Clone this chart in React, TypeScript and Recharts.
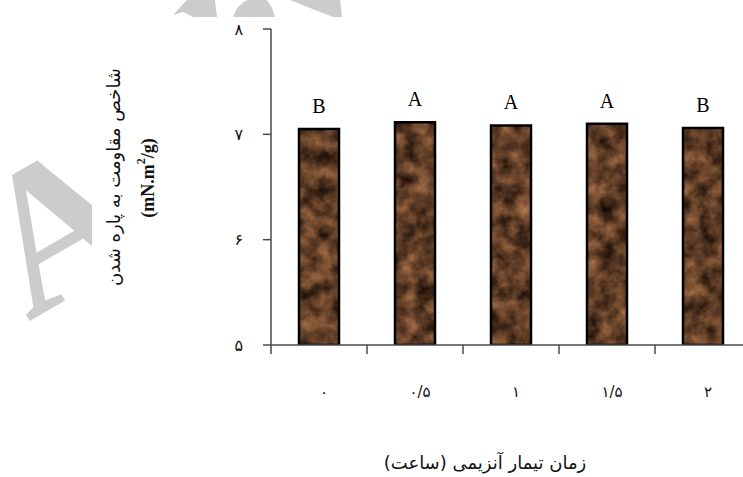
import React from "react";
import { BarChart, Bar, XAxis, YAxis, LabelList } from "recharts";

const categories = ["۰", "۰/۵", "۱", "۱/۵", "۲"];
const values = [7.05, 7.115, 7.085, 7.1, 7.06];
const letters = ["B", "A", "A", "A", "B"];
const yTicks = [5, 6, 7, 8];
const yTickLabels = ["۵", "۶", "۷", "۸"];
const xTitle = "زمان تیمار آنزیمی (ساعت)";
const yTitle = "شاخص مقاومت به پاره شدن";

const data = categories.map((c, i) => ({ cat: c, value: values[i], letter: letters[i] }));

const W = 760;
const H = 477;
const X_H = 30;
const M = { top: 29, right: 9, bottom: 132 - X_H, left: 0 };
const Y_W = 271;
const PLOT_W = W - M.left - M.right - Y_W;
const HALF = PLOT_W / categories.length / 2;
const AXIS_COLOR = "#4a4a4a";
const PERSIAN_FONT = "'DejaVu Sans', sans-serif";

const XTick = (props: any) => {
  const { x, y, payload } = props;
  return (
    <g>
      <line x1={x - HALF} y1={y} x2={x - HALF} y2={y + 9} stroke={AXIS_COLOR} strokeWidth={1.5} />
      <text x={x + 5} y={y + 52} textAnchor="middle" fontSize={15} fontFamily={PERSIAN_FONT} fill="#111">
        {payload.value}
      </text>
    </g>
  );
};

const yFmt = (v: number) => yTickLabels[yTicks.indexOf(v)] ?? String(v);

export default function App() {
  return (
    <div style={{ position: "absolute", left: 0, top: 0, width: 743, height: 477, overflow: "hidden", background: "#fff" }}>
      <svg width={743} height={477} style={{ position: "absolute", left: 0, top: 0 }}>
        <g fill="#cccccc">
          <text x={28} y={322} fontSize={205} fontWeight="bold" fontFamily="'Liberation Serif', serif" transform="rotate(-30 28 322)">A</text>
          <path d="M173,15 L187,0 L215,0 L217,17 L193,17 L183,12 Z" />
          <path d="M233,17 L237,8 L245,1 L249,0 L267,0 L272,8 L275,17 Z" />
          <path d="M290,0 L340,0 L342,17 L333,17 L315,10 Z" />
        </g>
      </svg>
      <div style={{ position: "absolute", left: 92, top: 17, width: 700, height: 470, background: "#fff" }} />
      <div style={{ position: "absolute", left: 0, top: 0 }}>
        <BarChart width={W} height={H} data={data} margin={M} barCategoryGap={0}>
          <defs>
            <filter id="marbleF" x="0" y="0" width="100%" height="100%" colorInterpolationFilters="sRGB">
              <feTurbulence type="fractalNoise" baseFrequency="0.06" numOctaves={4} seed={5} />
              <feColorMatrix
                type="matrix"
                values="0.75 0 0 0 0.0  0.52 0 0 0 -0.02  0.34 0 0 0 -0.02  0 0 0 0 1"
              />
            </filter>
            <pattern id="marble" patternUnits="userSpaceOnUse" x={0} y={0} width={W} height={H}>
              <rect x={0} y={0} width={W} height={H} fill="#5a3a24" filter="url(#marbleF)" />
            </pattern>
          </defs>
          <XAxis
            dataKey="cat"
            height={X_H}
            tickLine={false}
            tickSize={0}
            tickMargin={0}
            tick={<XTick />}
            axisLine={{ stroke: AXIS_COLOR, strokeWidth: 1.5 }}
            interval={0}
          />
          <YAxis
            type="number"
            domain={[5, 8]}
            ticks={yTicks}
            width={Y_W}
            tickFormatter={yFmt}
            tickSize={8}
            tickMargin={20}
            tickLine={{ stroke: AXIS_COLOR, strokeWidth: 1.5 }}
            axisLine={{ stroke: AXIS_COLOR, strokeWidth: 1.5 }}
            tick={{ fontSize: 16, fontFamily: PERSIAN_FONT, fill: "#111" }}
            allowDataOverflow
          />
          <Bar dataKey="value" barSize={40} fill="url(#marble)" stroke="#000" strokeWidth={2.5} isAnimationActive={false}>
            <LabelList
              dataKey="letter"
              position="top"
              offset={16}
              style={{ fontSize: 20, fontFamily: "'Liberation Serif', serif", fill: "#000" }}
            />
          </Bar>
        </BarChart>
      </div>
      <svg width={743} height={477} style={{ position: "absolute", left: 0, top: 0, pointerEvents: "none" }}>
        <text x={113} y={177} transform="rotate(-90 113 177)" textAnchor="middle" dominantBaseline="central" fontSize={18} fontFamily={PERSIAN_FONT} fill="#111">
          {yTitle}
        </text>
        <text x={148} y={178} transform="rotate(-90 148 178)" textAnchor="middle" dominantBaseline="central" fontSize={18} fontWeight="bold" fontFamily="'Liberation Serif', serif" fill="#111">
          (mN.m<tspan fontSize={12} dy={-7}>2</tspan><tspan dy={7}>/g)</tspan>
        </text>
        <text x={485} y={462} textAnchor="middle" dominantBaseline="central" fontSize={18} fontFamily={PERSIAN_FONT} fill="#111">
          {xTitle}
        </text>
      </svg>
    </div>
  );
}
